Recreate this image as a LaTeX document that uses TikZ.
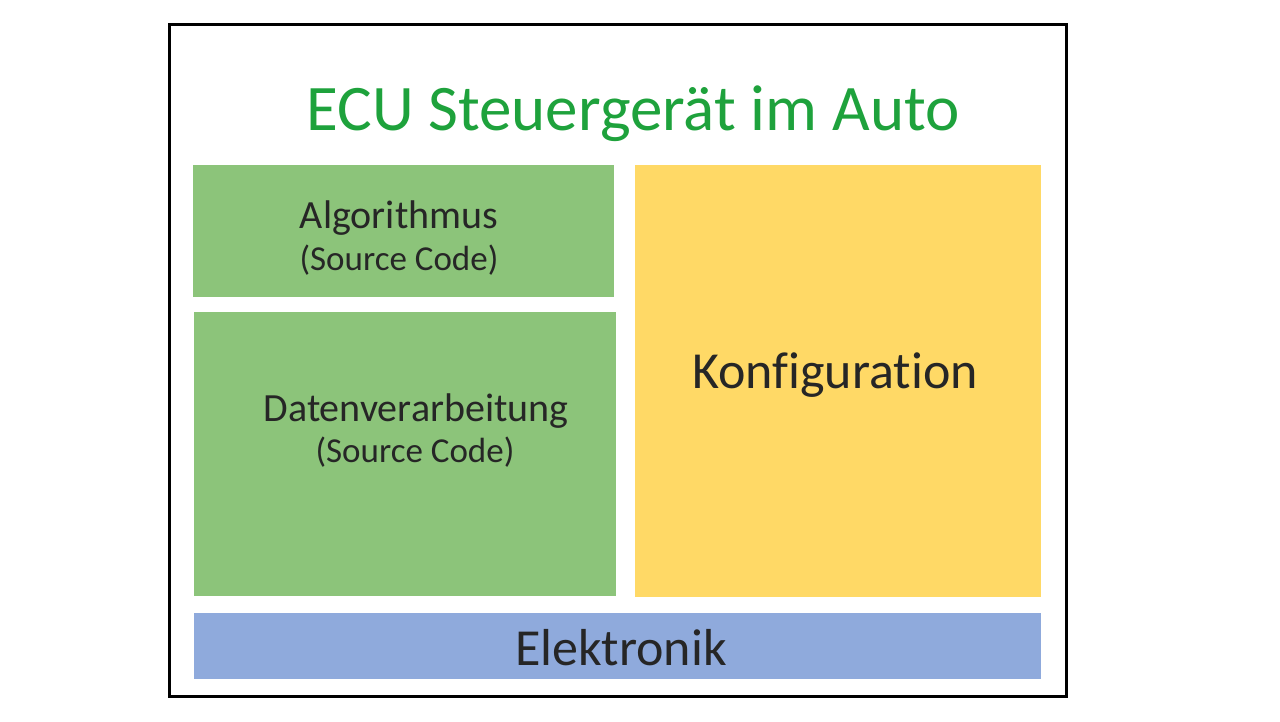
\documentclass[tikz,border=0pt]{standalone}
\usepackage{fontspec}
\setmainfont[Ligatures=NoCommon]{Carlito}
\definecolor{boxgreen}{RGB}{140,196,122}
\definecolor{boxyellow}{RGB}{255,217,102}
\definecolor{boxblue}{RGB}{143,170,220}
\definecolor{titlegreen}{RGB}{30,162,60}
\definecolor{txt}{RGB}{38,38,38}
\begin{document}
\begin{tikzpicture}[x=1pt,y=-1pt,
  lbl/.style={inner sep=0pt, text=txt, anchor=base}]
\useasboundingbox (0,0) rectangle (1280,721);
\fill[white] (0,0) rectangle (1280,721);
\draw[line width=3pt] (169,24) rectangle (1066,696);
\node[lbl, text=titlegreen, font=\fontsize{65}{67}\selectfont] (title) at (633,130) {ECU Steuergerät im Auto};
\fill[boxgreen] (193,165) rectangle (614,297);
\fill[boxgreen] (194,312) rectangle (616,596);
\fill[boxyellow] (635,165) rectangle (1041,597);
\fill[boxblue] (194,613) rectangle (1041,679);
\node[lbl, font=\fontsize{40}{42}\selectfont] (alg) at (399,228) {Algorithmus};
\node[lbl, font=\fontsize{35}{37}\selectfont] (alg2) at (399,270) {(Source Code)};
\node[lbl, font=\fontsize{40}{42}\selectfont] (dat) at (416,421) {Datenverarbeitung};
\node[lbl, font=\fontsize{35}{37}\selectfont] (dat2) at (415,462) {(Source Code)};
\node[lbl, font=\fontsize{52}{54}\selectfont] (konf) at (835,388) {Konfiguration};
\node[lbl, font=\fontsize{52}{54}\selectfont] (elek) at (621,665) {Elektronik};
\end{tikzpicture}
\end{document}
